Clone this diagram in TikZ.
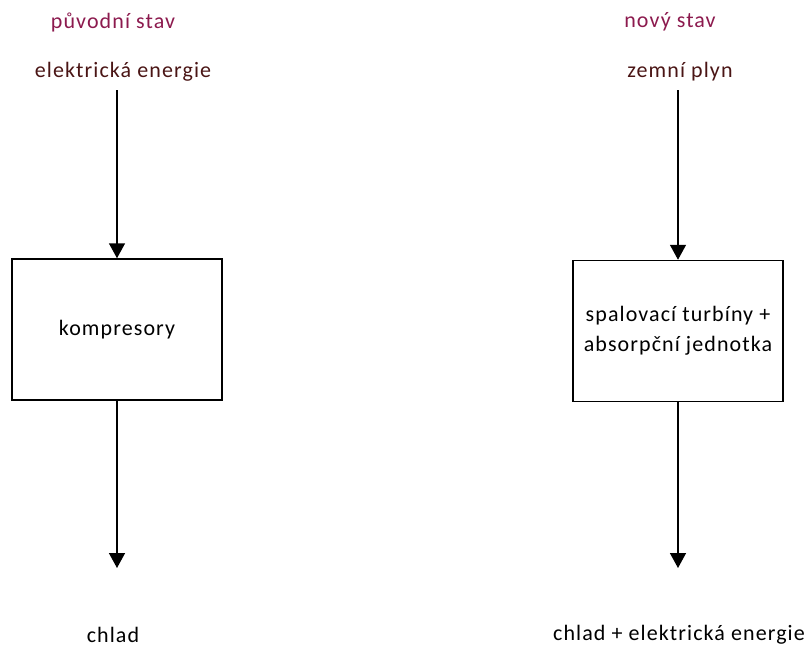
\documentclass[tikz,border=0pt]{standalone}
\usepackage{fontspec}
\setmainfont{Carlito}[LetterSpace=5]
\usetikzlibrary{arrows.meta}
\definecolor{headcol}{HTML}{8C1A4E}
\definecolor{flowcol}{HTML}{4A1515}
\begin{document}
\begin{tikzpicture}[x=1pt,y=-1pt,
  head/.style={text=headcol,font=\fontsize{22}{26}\selectfont,anchor=center},
  flow/.style={text=flowcol,font=\fontsize{22}{26}\selectfont,anchor=center},
  outtext/.style={text=black,font=\fontsize{22}{26}\selectfont,anchor=center},
  unit/.style={draw,line width=1.5pt,minimum width=210pt,minimum height=141pt,
    font=\fontsize{22}{30}\selectfont,align=center,inner sep=0pt},
  link/.style={line width=1.5pt,-{Triangle[length=15pt,width=16pt]}}]
\useasboundingbox (0,0) rectangle (811,648);
% left: original state
\node[head] (ho) at (113,22) {původní stav};
\node[flow] (ino) at (123,72) {elektrická energie};
\node[unit] (bo) at (117,329.5) {kompresory};
\coordinate (eo) at (117,568);
\node[outtext] (outo) at (113,635) {chlad};
\draw[link] (117,90) -- (bo.north);
\draw[link] (bo.south) -- (eo);
% right: new state
\node[head] (hn) at (670,22) {nový stav};
\node[flow] (inn) at (680,72) {zemní plyn};
\node[unit] (bn) at (678,331) {spalovací turbíny +\\absorpční jednotka};
\coordinate (en) at (678,568);
\node[outtext] (outn) at (679,635) {chlad + elektrická energie};
\draw[link] (678,90) -- (bn.north);
\draw[link] (bn.south) -- (en);
\end{tikzpicture}
\end{document}
